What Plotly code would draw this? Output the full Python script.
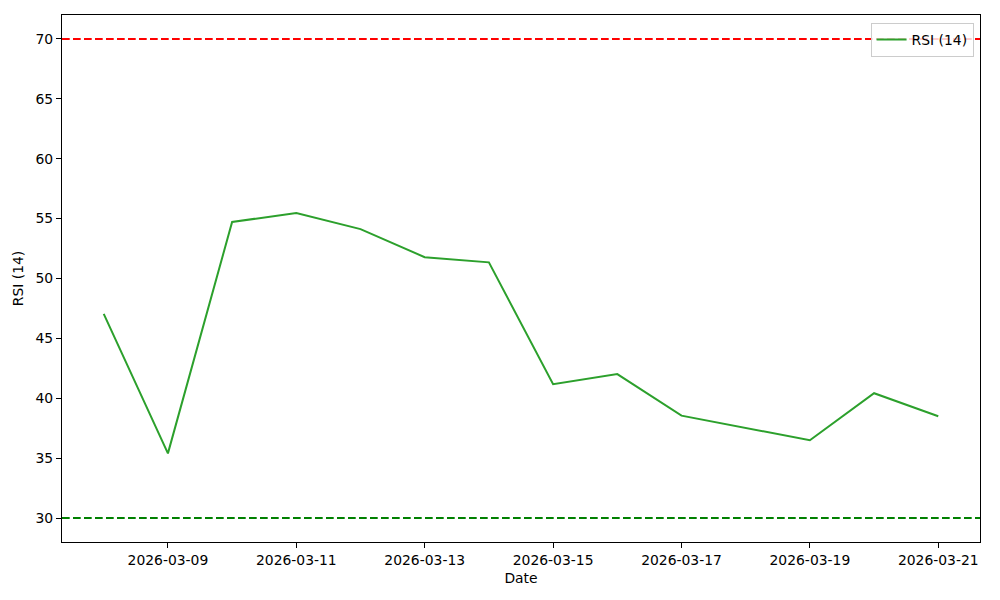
import plotly.graph_objects as go

dates = ["2026-03-08", "2026-03-09", "2026-03-10", "2026-03-11", "2026-03-12",
         "2026-03-13", "2026-03-14", "2026-03-15", "2026-03-16", "2026-03-17",
         "2026-03-19", "2026-03-20", "2026-03-21"]
rsi = [47.05, 35.4, 54.72, 55.47, 54.12, 51.78, 51.35, 41.18, 42.02, 38.55,
       36.5, 40.42, 38.5]
overbought = 70
oversold = 30
x_ticks = ["2026-03-09", "2026-03-11", "2026-03-13", "2026-03-15",
           "2026-03-17", "2026-03-19", "2026-03-21"]

font = dict(family="DejaVu Sans", size=13.9, color="black")

fig = go.Figure()
fig.add_trace(go.Scatter(x=dates, y=rsi, mode="lines", name="RSI (14)",
                         line=dict(color="#2ca02c", width=2)))

for level, col in [(overbought, "red"), (oversold, "green")]:
    fig.add_shape(type="line", xref="paper", x0=0, x1=1, yref="y", y0=level, y1=level,
                  line=dict(color=col, width=2, dash="7.7px,3.3px"), layer="above")

axis_common = dict(showline=True, linecolor="black", linewidth=1, mirror=True,
                   ticks="outside", ticklen=5, tickcolor="black", showgrid=False,
                   zeroline=False, tickfont=font)

fig.update_layout(
    width=984, height=584,
    margin=dict(l=54, r=12, t=7, b=50),
    plot_bgcolor="white", paper_bgcolor="white",
    font=font,
    xaxis=dict(range=["2026-03-07 08:24", "2026-03-21 15:36"], tickvals=x_ticks,
               tickformat="%Y-%m-%d", title=dict(text="Date", font=font, standoff=6),
               **axis_common),
    yaxis=dict(range=[28, 72], tickvals=[30, 35, 40, 45, 50, 55, 60, 65, 70],
               title=dict(text="RSI (14)", font=font, standoff=8), **axis_common),
    legend=dict(x=0.993, y=0.985, xanchor="right", yanchor="top",
                bordercolor="#cccccc", borderwidth=1, bgcolor="rgba(255,255,255,0.8)",
                font=font),
    showlegend=True,
)

fig.write_html("out.html")
